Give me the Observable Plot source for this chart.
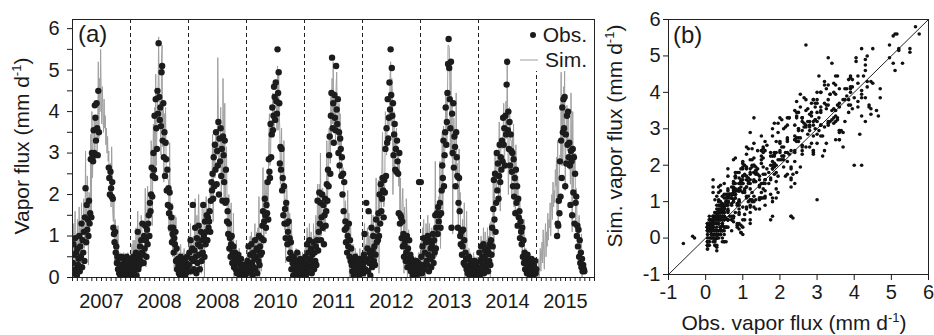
<!DOCTYPE html>
<html><head><meta charset="utf-8">
<script src="https://cdn.jsdelivr.net/npm/d3@7"></script>
<script src="https://cdn.jsdelivr.net/npm/@observablehq/plot@0.6"></script>
<style>
html,body{margin:0;padding:0;background:#fff;overflow:hidden;}
#wrap{position:relative;width:934px;height:335px;}
#pa{position:absolute;left:0;top:0;}
#pb{position:absolute;left:600px;top:0;}
</style></head><body><div id="wrap"><div id="pa"></div><div id="pb"></div></div>
<script>
// ---------- data (100 samples per year) ----------
const yearLabels = ["2007","2008","2008","2010","2011","2012","2013","2014","2015"];
const scatterTicks = [-1, 0, 1, 2, 3, 4, 5, 6];
const fluxTicks = [0, 0.5, 1, 1.5, 2, 2.5, 3, 3.5, 4, 4.5, 5, 5.5, 6];

const obs2007 = [0.35,0.8,0.1,0.55,0.95,0.2,0.6,0.05,0.7,0.3,
 0.45,1.0,0.15,0.75,0.5,1.3,0.25,0.9,0.6,1.1,
 0.4,1.45,2.15,0.85,1.75,1.15,1.4,1.0,1.85,1.3,
 1.55,2.85,1.45,3.0,2.9,2.8,3.55,3.0,4.15,3.85,
 3.3,4.2,3.6,2.95,4.5,3.5,null,null,null,null,
 null,null,null,null,null,null,null,null,null,null,
 null,null,2.65,2.4,2.0,2.55,2.15,1.95,2.3,1.9,
 1.2,1.05,0.85,1.1,0.6,0.75,0.35,0.5,0.2,0.45,
 0.1,0.3,0.05,0.2,0.5,0.15,0.3,0.05,0.25,0.4,
 0.1,0.45,0.2,0.5,0.05,0.3,0.15,0.45,0.25,0.1];
const sim2007 = [0.6,1.3,0.0,0.9,1.6,0.3,1.0,0.2,1.4,0.1,
 0.9,1.7,0.5,1.2,0.3,1.8,0.7,1.5,1.1,1.9,
 0.7,1.05,3.05,0.95,1.65,2.45,1.9,0.3,2.05,2.0,
 1.35,3.45,1.45,4.0,2.4,3.2,3.3,3.8,2.85,3.8,
 3.8,3.85,2.9,3.7,5.2,3.35,4.8,4.0,5.5,4.4,
 3.7,4.6,4.0,3.5,4.3,3.6,3.9,3.2,3.6,3.0,
 3.4,2.8,3.05,2.35,2.6,2.75,1.7,3.15,2.4,1.55,
 1.35,2.0,0.3,1.4,1.15,0.45,1.05,0.5,1.25,0.35,
 0.3,0.6,-0.2,0.5,0.2,0.4,0.0,0.3,0.6,0.1,
 0.4,0.2,0.5,0.3,-0.1,0.6,0.2,0.4,0.1,0.3];

const obs2008 = [0.2,0.05,0.4,0.15,0.5,0.3,0.1,0.45,0.25,0.6,
 0.05,0.35,1.1,0.2,0.5,0.3,0.75,0.4,0.9,0.6,
 1.3,0.55,0.35,1.0,0.7,1.25,0.9,0.5,1.15,0.8,
 1.3,1.5,1.0,1.8,1.6,2.0,2.65,1.95,2.45,3.0,
 2.6,3.9,2.4,4.3,3.6,3.1,4.5,3.95,5.65,4.35,
 3.8,4.1,3.65,4.95,5.1,3.3,4.2,2.9,3.5,2.45,
 3.25,2.85,2.1,2.6,1.75,2.15,1.55,2.05,1.7,1.2,
 1.45,0.85,1.05,1.2,0.6,0.95,0.8,1.1,0.4,0.7,
 0.2,0.45,0.3,0.1,0.35,0.05,0.5,0.25,0.15,0.4,
 0.3,0.1,0.45,0.2,0.05,0.35,0.25,0.5,0.15,0.3];
const sim2008 = [0.5,-0.2,0.8,0.1,0.9,0.6,0.3,0.9,0.2,1.2,
 0.3,0.8,1.6,0.5,1.1,0.6,1.3,0.9,1.5,1.2,
 1.0,1.0,1.0,0.85,0.95,2.15,0.25,0.85,1.65,2.2,
 1.6,1.1,1.9,1.9,1.5,3.3,3.15,1.25,2.65,3.7,
 2.4,4.1,2.4,4.9,2.7,3.5,4.25,4.35,5.8,4.3,
 3.9,3.75,2.95,5.3,5.6,3.15,4.05,2.3,3.95,3.35,
 4.1,2.6,2.5,2.55,2.35,2.35,1.1,3.25,1.8,0.85,
 1.6,1.8,0.5,1.5,1.15,0.15,1.5,1.1,1.45,0.6,
 0.4,0.7,0.1,0.3,0.6,-0.1,0.8,0.2,0.5,0.3,
 0.6,0.2,0.7,0.0,0.3,0.5,-0.2,0.6,0.4,0.2];

const obs2009 = [0.3,0.6,-0.35,0.9,0.15,0.45,0.7,1.75,0.4,0.2,
 0.65,1.2,0.5,0.1,0.95,0.35,0.8,1.25,0.55,0.2,
 0.75,1.1,0.4,0.9,0.6,1.75,1.0,0.5,1.35,0.8,
 1.1,1.5,0.9,1.45,1.2,1.35,1.6,1.1,1.85,2.3,
 2.1,2.5,1.9,2.9,2.2,3.2,2.6,3.5,2.25,3.05,
 2.7,3.75,2.0,3.35,2.8,3.6,2.45,3.1,1.85,3.4,
 2.95,2.3,3.3,1.8,2.6,1.85,1.35,1.6,1.05,1.3,
 0.7,0.95,0.5,0.8,1.0,0.35,0.6,0.75,0.25,0.45,
 0.6,0.2,0.5,0.1,0.35,0.55,0.15,0.4,0.05,0.3,
 0.45,0.1,0.25,0.05,0.3,0.15,0.2,0.05,0.3,0.1];
const sim2009 = [0.6,1.0,0.05,1.3,0.4,0.9,0.2,0.5,1.0,0.6,
 1.2,1.9,0.8,0.4,1.5,0.9,1.3,2.0,1.1,0.6,
 1.25,1.15,0.1,1.65,1.7,1.6,1.25,-0.1,1.8,1.7,
 1.95,1.25,1.3,1.4,1.8,1.55,1.15,2.3,1.95,1.95,
 2.25,3.45,1.35,3.2,2.75,2.4,3.3,3.5,3.3,2.95,
 5.3,3.8,2.65,3.2,3.05,4.1,1.8,3.45,2.35,4.8,
 3.25,1.9,4.2,1.9,2.5,3.15,1.85,0.9,1.25,2.0,
 0.5,1.55,0.5,1.8,0.5,0.75,0.75,1.55,-0.05,0.8,
 0.7,0.4,0.9,0.2,0.6,0.3,0.5,0.7,-0.1,0.4,
 0.6,0.2,0.4,-0.2,0.5,0.3,0.1,0.4,0.2,0.3];

const obs2010 = [0.1,0.4,0.2,0.75,-0.6,0.3,0.55,0.15,0.8,0.35,
 0.05,0.6,0.25,0.45,0.9,0.2,0.5,0.7,0.1,0.65,
 0.4,1.0,0.3,0.75,0.55,0.95,0.6,1.25,1.6,0.9,
 1.35,1.9,1.5,1.2,1.75,1.55,2.3,1.4,2.85,2.55,
 2.4,3.7,2.9,3.45,4.1,3.55,3.9,4.6,4.35,3.8,
 4.7,4.25,3.95,5.5,4.45,4.95,4.2,2.75,3.15,2.6,
 3.1,2.1,2.4,1.5,2.2,1.3,1.65,0.95,1.8,1.3,
 0.8,1.1,1.35,0.45,0.95,0.6,0.85,0.2,0.5,0.35,
 0.05,0.5,0.2,0.3,0.1,0.4,0.15,0.6,0.25,0.05,
 0.35,0.2,0.45,0.1,0.3,0.05,0.4,0.15,0.25,0.05];
const sim2010 = [0.3,0.7,0.5,0.6,-0.15,0.8,1.0,0.2,1.1,0.6,
 0.4,0.9,-0.1,0.8,1.3,0.5,0.9,1.1,0.3,1.2,
 0.55,1.95,-0.25,1.05,1.1,0.15,1.3,1.25,2.65,0.8,
 1.05,2.35,2.15,1.05,2.0,2.45,1.65,1.75,3.35,3.95,
 2.7,2.9,3.8,3.55,3.6,4.45,4.0,3.5,4.15,4.1,
 4.1,4.45,3.55,5.1,3.55,4.95,3.95,3.55,2.25,2.95,
 3.6,2.15,2.1,2.25,3.3,1.15,1.9,0.35,2.25,2.2,
 1.65,0.85,1.75,0.4,1.55,0.8,0.4,1.4,0.6,0.0,
 0.2,0.6,0.3,0.5,-0.2,0.7,0.4,0.3,0.6,0.1,
 0.5,0.2,0.6,0.3,0.0,0.4,0.6,0.2,0.4,0.3];

const obs2011 = [0.2,0.5,0.05,0.35,0.8,0.15,0.6,0.3,0.9,0.45,
 0.25,0.7,0.1,0.55,0.35,0.85,0.2,0.6,0.4,0.75,
 0.3,0.9,1.85,0.65,1.1,2.05,1.3,1.8,0.9,1.45,
 2.0,1.2,1.75,0.8,1.5,1.9,1.25,1.6,2.25,1.85,
 2.6,2.2,2.95,3.4,2.5,3.9,4.45,5.3,3.6,4.2,
 3.25,4.4,3.85,3.55,5.1,4.05,3.7,4.3,3.0,3.5,
 2.7,3.35,3.1,2.45,2.9,2.0,2.5,1.6,2.3,1.15,
 1.35,0.85,1.2,0.6,1.0,0.75,1.3,0.5,0.9,0.4,
 0.7,0.3,0.15,0.45,0.05,0.35,0.25,0.5,0.1,0.3,
 0.4,0.15,0.2,0.35,0.05,0.45,0.1,0.25,0.4,0.15];
const sim2011 = [0.4,0.8,-0.1,0.6,1.2,0.3,0.5,0.7,1.3,0.2,
 0.7,1.1,0.4,0.9,0.2,1.3,0.6,1.0,0.9,1.5,
 1.15,0.65,2.25,0.6,1.7,2.25,0.85,3.0,1.0,1.1,
 2.15,2.15,1.2,1.1,2.05,1.1,1.95,1.6,3.3,1.75,
 2.3,2.65,3.6,3.25,2.75,4.4,3.4,4.8,3.7,5.2,
 3.55,3.6,4.35,3.25,4.6,4.95,3.8,3.2,3.2,4.2,
 2.5,3.95,3.1,3.45,2.4,2.4,2.65,2.4,1.4,1.5,
 1.85,0.9,0.9,1.35,2.1,0.6,1.55,-0.1,1.35,1.3,
 0.5,0.6,0.2,0.8,-0.3,0.5,0.1,0.7,0.3,0.4,
 0.6,0.0,0.4,0.5,0.2,0.7,-0.1,0.4,0.3,0.2];

const obs2012 = [0.3,0.1,0.55,1.05,0.2,0.45,1.8,0.4,0.7,0.15,
 1.6,0.35,0.6,0.05,0.5,1.2,0.25,0.65,1.0,0.4,
 0.75,0.3,0.55,1.4,0.85,1.15,0.9,1.55,1.0,2.0,
 1.3,2.25,1.6,1.9,2.4,2.1,1.45,2.35,2.05,3.1,
 2.45,3.6,3.25,4.3,3.35,3.85,4.7,4.05,5.5,4.4,
 5.05,3.9,4.2,2.95,3.45,3.7,2.6,3.1,2.55,3.3,
 2.8,2.5,1.55,3.0,1.3,1.5,1.45,0.95,1.35,0.75,
 1.05,0.5,0.8,0.9,0.4,0.6,1.0,0.25,0.7,0.45,
 0.9,0.35,0.55,0.15,0.45,0.3,0.05,0.4,0.2,0.35,
 0.1,0.25,0.4,0.05,0.3,0.15,0.35,2.3,0.2,0.1];
const sim2012 = [0.2,0.6,0.9,1.3,-0.1,0.8,0.6,0.9,1.2,0.4,
 1.1,0.7,1.0,0.3,0.9,1.6,0.6,1.2,1.5,0.9,
 0.55,0.9,0.55,2.4,0.35,1.55,1.05,2.35,0.1,2.35,
 1.8,2.3,1.3,2.65,3.5,1.95,1.7,1.75,2.5,4.0,
 3.3,2.95,3.65,3.85,3.95,3.65,3.85,4.85,5.2,3.65,
 4.8,4.45,2.0,3.25,4.0,2.5,3.3,3.1,3.6,3.2,
 2.5,2.95,2.2,2.85,1.55,2.4,0.8,1.3,1.85,2.15,
 1.35,0.1,1.7,1.0,0.3,1.9,1.5,-0.2,0.9,1.15,
 0.7,0.5,0.3,0.4,0.6,-0.2,0.3,0.5,0.1,0.4,
 0.3,0.5,0.2,0.4,0.0,0.3,0.6,0.6,0.4,0.2];

const obs2013 = [2.3,0.5,0.1,0.75,0.3,0.95,0.2,0.6,-0.3,0.85,
 0.4,0.3,1.0,0.55,0.15,0.9,0.45,0.7,0.25,0.8,
 0.5,1.05,0.35,0.9,0.6,1.5,0.7,1.2,1.55,1.05,
 1.7,1.35,1.5,1.8,1.2,1.55,2.1,2.7,2.4,3.3,
 2.2,2.95,3.5,4.1,3.2,3.75,4.45,5.15,5.75,5.05,
 4.3,3.6,5.2,1.2,3.95,3.0,4.2,2.65,3.4,3.15,
 2.2,3.5,2.9,2.45,1.2,1.8,2.4,1.6,1.0,0.8,
 1.1,0.55,0.75,1.15,0.35,0.9,0.3,0.6,0.45,0.2,
 0.45,0.1,0.25,0.5,0.05,0.3,0.4,0.15,0.2,0.35,
 0.1,0.3,0.05,0.4,0.2,0.15,0.35,0.1,0.25,0.05];
const sim2013 = [0.6,0.9,0.3,1.2,0.5,1.4,0.0,1.0,0.0,1.3,
 0.8,0.6,1.5,0.9,0.4,1.3,0.8,1.1,0.5,1.2,
 0.8,0.65,1.25,1.0,0.5,2.8,1.2,0.5,1.75,1.75,
 1.5,1.95,1.5,2.8,0.7,1.95,2.25,3.5,1.5,3.65,
 2.7,3.0,3.2,4.45,4.3,3.2,4.3,5.6,5.6,5.55,
 4.75,2.95,5.2,2.9,4.15,1.05,3.35,3.85,3.5,2.8,
 2.35,4.45,2.35,2.75,1.75,1.0,3.1,1.6,2.05,0.7,
 0.8,1.0,1.4,1.0,0.6,1.8,-0.35,0.95,0.95,1.6,
 0.2,0.5,0.4,0.7,-0.3,0.6,0.3,0.2,0.5,0.1,
 0.3,0.6,0.0,0.5,0.3,0.4,0.2,0.5,0.1,0.3];

const obs2014 = [0.2,0.6,0.05,0.4,0.75,0.15,0.5,0.3,0.8,0.1,
 0.45,0.65,0.25,0.55,0.35,0.7,0.15,0.6,0.4,0.8,
 0.3,0.9,0.55,1.2,0.75,1.65,2.35,1.4,2.5,1.1,
 1.8,3.0,2.1,2.75,1.9,2.45,3.2,2.3,2.9,2.6,
 3.3,2.8,3.85,3.2,3.6,2.7,3.9,3.45,4.65,5.2,
 3.55,4.0,3.1,3.75,2.7,3.45,3.05,2.55,3.0,2.2,
 2.85,1.95,2.4,1.55,2.6,1.8,2.2,1.25,1.9,1.45,
 1.6,0.95,1.35,1.1,0.8,1.2,0.5,0.9,0.35,0.6,
 0.2,0.5,0.4,0.1,0.55,0.3,0.15,0.45,0.05,0.35,
 0.2,0.45,0.1,0.3,0.05,0.25,0.15,0.4,0.1,0.2];
const sim2014 = [0.4,0.5,-0.2,0.7,1.0,0.3,0.9,0.2,1.2,0.4,
 0.8,1.1,0.5,0.9,0.6,1.2,0.4,1.0,0.7,1.3,
 0.0,1.35,1.2,1.05,1.0,2.55,0.55,1.75,3.0,2.5,
 2.1,2.6,3.0,2.85,1.8,3.75,3.7,1.6,3.1,3.3,
 3.1,3.4,3.45,4.2,2.7,3.1,3.65,4.25,3.35,5.15,
 3.65,2.0,2.8,4.1,3.8,3.3,3.3,1.95,3.45,3.1,
 3.7,1.7,2.8,1.5,3.2,2.0,1.75,2.45,2.0,1.1,
 1.75,1.9,0.8,1.4,1.35,0.4,1.2,0.9,1.4,0.5,
 0.4,0.7,0.2,0.3,-0.1,0.6,0.0,0.5,0.2,0.1,
 0.3,0.0,0.4,0.1,0.2,0.0,0.3,0.1,-0.1,0.2];

const obs2015 = [null,null,null,null,null,null,null,null,null,null,
 null,null,null,null,null,null,null,null,null,null,
 null,null,null,null,null,null,null,null,null,null,
 null,null,null,null,null,1.0,1.3,1.25,1.85,1.55,
 2.8,1.95,3.3,2.4,4.1,3.5,4.3,3.6,4.35,2.2,
 3.45,2.75,3.9,3.2,4.0,2.9,3.25,2.7,1.75,3.05,
 2.8,1.5,3.1,2.05,2.9,1.3,2.5,1.8,1.95,1.0,
 1.25,0.75,1.15,0.5,0.9,0.35,0.6,0.25,0.45,0.15,
 0.3,0.2,0.15,null,null,null,null,null,null,null,
 null,null,null,null,null,null,null,null,null,null];
const sim2015 = [0.25,-0.1,0.05,0.45,0.0,0.3,0.7,0.15,0.5,0.85,
 0.35,1.15,0.6,0.2,0.9,1.3,0.5,1.1,0.75,1.55,
 0.9,1.4,1.2,1.8,1.0,1.65,2.0,1.4,2.3,1.7,
 2.1,1.8,2.6,2.2,2.9,1.6,3.3,1.0,2.3,2.5,
 2.95,2.9,4.95,2.7,4.25,2.7,4.6,3.6,5.0,2.1,
 3.15,3.2,4.15,3.05,3.85,3.8,2.6,3.05,2.25,4.45,
 3.1,1.1,4.0,2.15,2.8,2.6,3.0,1.1,2.15,1.7,
 1.05,1.35,1.15,1.5,0.4,0.75,0.75,1.05,-0.1,0.5,
 0.3,0.1,0.2,null,null,null,null,null,null,null,
 null,null,null,null,null,null,null,null,null,null];

// ---------- build rows ----------
const obsYears = [obs2007, obs2008, obs2009, obs2010, obs2011, obs2012, obs2013, obs2014, obs2015];
const simYears = [sim2007, sim2008, sim2009, sim2010, sim2011, sim2012, sim2013, sim2014, sim2015];
const obsRows = [], simRows = [], pairs = [];
obsYears.forEach((arr, yi) => arr.forEach((v, k) => {
  if (v != null) obsRows.push({x: yi + (k + 0.5) / arr.length, v});
}));
simYears.forEach((arr, yi) => arr.forEach((v, k) => {
  simRows.push({x: yi + (k + 0.5) / arr.length, v: v == null ? NaN : v});
}));
obsYears.forEach((arr, yi) => arr.forEach((v, k) => {
  const s = simYears[yi][k];
  if (v != null && s != null) pairs.push({obs: v, sim: s});
}));
const nYears = yearLabels.length;
const boundaries = d3.range(1, nYears);
const monthTicks = d3.range(0, nYears * 12 + 1).map(m => m / 12);
const yearCenters = d3.range(nYears).map(i => i + 0.5);

const FONT = "'Liberation Sans', Arial, Helvetica, sans-serif";
const INK = "#1a1a1a";

// ---------- panel (a) ----------
const chartA = Plot.plot({
  width: 600, height: 335,
  marginLeft: 72, marginRight: 6, marginTop: 19, marginBottom: 58,
  x: {domain: [0, nYears]},
  y: {domain: [0, 6.22]},
  style: {fontFamily: FONT, fontSize: "20px", color: INK, background: "white"},
  marks: [
    Plot.ruleX(boundaries, {stroke: "#222", strokeWidth: 1, strokeDasharray: "4,3"}),
    Plot.line(simRows, {x: "x", y: "v", stroke: "#a0a0a0", strokeWidth: 1, clip: true}),
    Plot.dot(obsRows, {x: "x", y: "v", r: 3.2, fill: "#1c1c1c", clip: true}),
    Plot.frame({stroke: "#222", strokeWidth: 1}),
    Plot.axisY({ticks: fluxTicks, tickSize: 5, tickPadding: 8, label: null,
      tickFormat: d => Number.isInteger(d) ? String(d) : ""}),
    Plot.axisX({ticks: monthTicks, tickSize: 4, label: null, tickFormat: () => ""}),
    Plot.axisX({ticks: yearCenters, tickSize: 0, tickPadding: 16, label: null,
      tickFormat: d => yearLabels[Math.floor(d)]})
  ]
});
document.getElementById("pa").appendChild(chartA);

// ---------- panel (b) ----------
const lo = scatterTicks[0], hi = scatterTicks[scatterTicks.length - 1];
const chartB = Plot.plot({
  width: 334, height: 335,
  marginLeft: 68, marginRight: 6, marginTop: 19, marginBottom: 61,
  x: {domain: [lo, hi]},
  y: {domain: [lo, hi]},
  style: {fontFamily: FONT, fontSize: "20px", color: INK, background: "white"},
  marks: [
    Plot.line([lo, hi].map(v => ({a: v, b: v})), {x: "a", y: "b", stroke: "#222", strokeWidth: 1}),
    Plot.dot(pairs, {x: "obs", y: "sim", r: 1.8, fill: "#111"}),
    Plot.frame({stroke: "#222", strokeWidth: 1}),
    Plot.axisX({ticks: scatterTicks, tickSize: 6, tickPadding: 4, label: null, tickFormat: d => String(d)}),
    Plot.axisY({ticks: scatterTicks, tickSize: 5, tickPadding: 3, label: null, tickFormat: d => String(d)})
  ]
});
document.getElementById("pb").appendChild(chartB);

// ---------- text annotations ----------
function unitLabel(svg, x, y, rotate, main) {
  const t = d3.select(svg).append("text")
    .attr("transform", `translate(${x},${y}) rotate(${rotate})`)
    .attr("text-anchor", "middle")
    .attr("font-family", FONT).attr("font-size", 21).attr("fill", INK);
  t.append("tspan").text(main);
  t.append("tspan").attr("font-size", 13).attr("dy", -8).text("-1");
  t.append("tspan").attr("dy", 8).text(")");
}
function plainText(svg, x, y, str, size, anchor) {
  d3.select(svg).append("text").attr("x", x).attr("y", y)
    .attr("text-anchor", anchor || "start")
    .attr("font-family", FONT).attr("font-size", size).attr("fill", INK).text(str);
}
unitLabel(chartA, 29, 146, -90, "Vapor flux (mm d");
plainText(chartA, 78, 42, "(a)", 24);

// legend (a)
const lg = d3.select(chartA).append("g");
lg.append("rect").attr("x", 516).attr("y", 20).attr("width", 77).attr("height", 51).attr("fill", "white");
lg.append("circle").attr("cx", 533).attr("cy", 35).attr("r", 3).attr("fill", "#1c1c1c");
plainText(chartA, 587, 42, "Obs.", 21, "end");
lg.append("line").attr("x1", 520).attr("x2", 538).attr("y1", 60).attr("y2", 60)
  .attr("stroke", "#a0a0a0").attr("stroke-width", 1);
plainText(chartA, 587, 67, "Sim.", 21, "end");

unitLabel(chartB, 22, 136, -90, "Sim. vapor flux (mm d");
unitLabel(chartB, 194, 330, 0, "Obs. vapor flux (mm d");
plainText(chartB, 73, 43, "(b)", 24);
</script></body></html>
